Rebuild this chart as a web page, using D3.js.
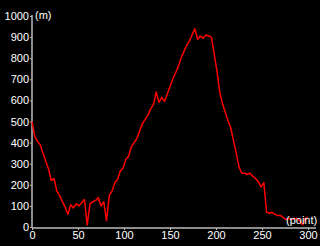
<!DOCTYPE html>
<html>
<head>
<meta charset="utf-8">
<script src="https://cdn.jsdelivr.net/npm/d3@7"></script>
<style>
  body { margin: 0; background: #000; }
  svg { display: block; }
  text { font-family: "Liberation Sans", Arial, sans-serif; }
</style>
</head>
<body>
<div id="chart"></div>
<script>
// elevation profile, one reading every 3 points
var points = d3.range(0, 301, 3);
var elevation = [
    500, 430, 405, 390, 350, 310, 275, 220, 230, 170,
    150, 120, 95, 60, 105, 90, 110, 100, 115, 130,
    10, 110, 120, 125, 140, 100, 120, 30, 150, 170,
    210, 225, 265, 280, 320, 335, 380, 400, 420, 455,
    490, 510, 530, 560, 580, 640, 590, 615, 595, 630,
    665, 700, 730, 760, 800, 830, 860, 880, 910, 940,
    890, 905, 895, 910, 905, 900, 820, 740, 640, 585,
    545, 505, 470, 410, 350, 285, 255, 255, 250, 255,
    240, 230, 215, 190, 210, 70, 65, 70, 60, 55,
    55, 45, 35, 40, 35, 40, 40, 30, 10, 40,
    45
];
var yTicks = [0, 100, 200, 300, 400, 500, 600, 700, 800, 900, 1000];
var xTicks = [0, 50, 100, 150, 200, 250, 300];

var width = 320, height = 246;
var mLeft = 32, mRight = 308, mTop = 16, mBottom = 227;

var svg = d3.select("#chart").append("svg")
    .attr("width", width)
    .attr("height", height)
    .style("background", "#000");

var x = d3.scaleLinear().domain([0, 300]).range([mLeft, mRight]);
var y = d3.scaleLinear().domain([0, 1000]).range([mBottom, mTop]);

var yAxis = svg.append("g")
    .attr("transform", `translate(${mLeft},0)`)
    .call(d3.axisLeft(y).tickValues(yTicks).tickFormat(d3.format("d"))
        .tickSize(2).tickPadding(1).tickSizeOuter(0));
var xAxis = svg.append("g")
    .attr("transform", `translate(0,${mBottom + 1})`)
    .call(d3.axisBottom(x).tickValues(xTicks).tickFormat(d3.format("d"))
        .tickSize(2).tickPadding(1).tickSizeOuter(0));

[yAxis, xAxis].forEach(function (g) {
    g.select(".domain").remove();
    g.selectAll("line").attr("stroke", "#bbb");
    g.selectAll("text").attr("fill", "#fff").style("font-size", "11px");
});

// axis lines, a bit longer than the data range
svg.append("line")
    .attr("x1", mLeft).attr("x2", mLeft)
    .attr("y1", y(1000) - 1).attr("y2", mBottom + 1)
    .attr("stroke", "#bbb").attr("stroke-width", 1.5);
svg.append("line")
    .attr("x1", mLeft).attr("x2", 316)
    .attr("y1", mBottom + 1).attr("y2", mBottom + 1)
    .attr("stroke", "#bbb").attr("stroke-width", 1.5);

var line = d3.line()
    .x((d, i) => x(points[i]))
    .y(d => y(d));

svg.append("path")
    .datum(elevation)
    .attr("fill", "none")
    .attr("stroke", "#ff0000")
    .attr("stroke-width", 1.5)
    .attr("stroke-linejoin", "round")
    .attr("d", line);

svg.append("text")
    .attr("x", mLeft + 3)
    .attr("y", 19)
    .attr("fill", "#fff")
    .style("font-size", "11px")
    .text("(m)");

svg.append("text")
    .attr("x", 286)
    .attr("y", 224)
    .attr("fill", "#fff")
    .style("font-size", "11px")
    .text("(point)");
</script>
</body>
</html>
